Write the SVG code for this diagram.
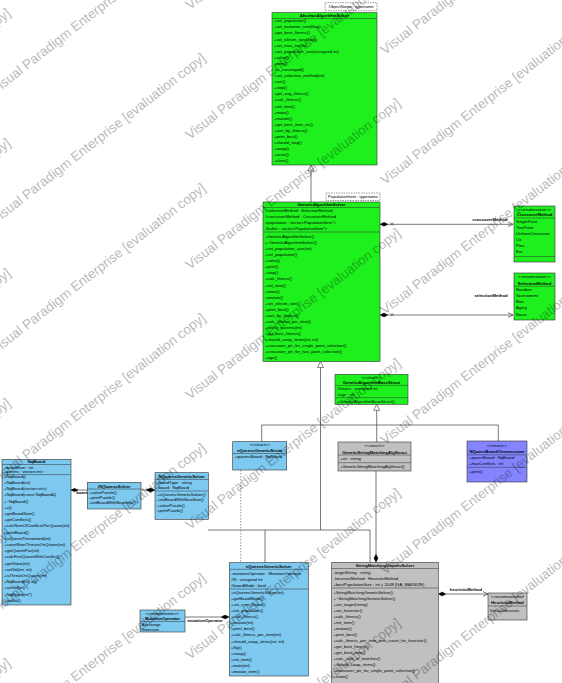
<svg xmlns="http://www.w3.org/2000/svg" width="562" height="683" viewBox="0 0 562 683">
<style>
.b{stroke:#333;stroke-width:0.6}
.gr{fill:#1ef01e}.bl{fill:#7ec9f0}.gy{fill:#c0c0c0}.pu{fill:#8484ff}
.sep{stroke:#333;stroke-width:0.5}
text{font-family:"Liberation Sans",Arial,sans-serif;font-size:4.2px;fill:#000}
.h{font-weight:bold;text-anchor:middle}
.i{font-style:italic}
.s{text-anchor:middle}
.tag{fill:#fff;stroke:#333;stroke-width:0.5;stroke-dasharray:1.5 1}
.c{stroke:#555;stroke-width:0.8;fill:none}
.d{stroke:#555;stroke-width:0.6;fill:none;stroke-dasharray:1.5 1.5}
.dia{fill:#000;stroke:#000;stroke-width:0.4}
.tri{fill:#fff;stroke:#555;stroke-width:0.7}
.lb{font-weight:bold;text-anchor:middle}
text.wm{font-size:13.5px;fill:#000;opacity:0.28}
</style>

<g id="connectors">
<line class="c" x1="311" y1="171" x2="311" y2="202"/>
<polygon class="tri" points="311,165 308,171 314,171"/>
<line class="c" x1="388" y1="224.3" x2="513" y2="224.3"/>
<path class="dia" d="M380,224.3 L384,222.3 L388,224.3 L384,226.3 Z"/>
<path class="c" d="M508,222 L513,224.3 L508,226.6"/>
<path class="c" stroke-width="0.5" d="M390.5,222.5 l3,3 M393.5,222.5 l-3,3"/>
<text class="lb" x="490" y="220.5">crossoverMethod</text>
<line class="c" x1="388" y1="315" x2="513" y2="315"/>
<path class="dia" d="M380,315 L384,313 L388,315 L384,317 Z"/>
<path class="c" d="M508,312.7 L513,315 L508,317.3"/>
<path class="c" stroke-width="0.5" d="M390.5,313.2 l3,3 M393.5,313.2 l-3,3"/>
<text class="lb" x="491" y="296.5">selectionMethod</text>
<polygon class="tri" points="320.5,361.5 317.5,367.5 323.5,367.5"/>
<line class="c" x1="320.5" y1="367.5" x2="320.5" y2="530"/>
<polyline class="c" points="208,530 370,530 370,562.3"/>
<line class="c" x1="265" y1="530" x2="265" y2="562.7"/>
<polygon class="tri" points="376.7,404.3 373.7,410.3 379.7,410.3"/>
<line class="c" x1="376.7" y1="410.3" x2="376.7" y2="442"/>
<polyline class="c" points="261.7,441.7 261.7,425 498.3,425 498.3,441"/>
<line class="c" x1="376" y1="471" x2="376" y2="554"/>
<path class="dia" d="M376,554 L378,558.2 L376,562.3 L374,558.2 Z"/>
<line class="d" x1="240.7" y1="470" x2="240.7" y2="562.7"/>
<line class="c" x1="446" y1="594" x2="488" y2="594"/>
<path class="dia" d="M438.3,594 L442.2,592 L446,594 L442.2,596 Z"/>
<path class="c" d="M483,591.7 L488,594 L483,596.3"/>
<text class="lb" x="466" y="591">heuristicMethod</text>
<line class="c" x1="185" y1="617" x2="221" y2="617"/>
<path class="dia" d="M221,617 L225,615 L229.3,617 L225,619 Z"/>
<text class="lb" x="205" y="621.5">mutationOperator</text>
<line class="c" x1="71" y1="490" x2="87.3" y2="490"/>
<path class="dia" d="M71,490 L74.5,488.3 L78,490 L74.5,491.7 Z"/>
<text class="lb" x="82" y="493.5">board</text>
<line class="c" x1="141" y1="490" x2="147" y2="490"/>
<path class="dia" d="M146,490 L150.5,488 L155,490 L150.5,492 Z"/>
</g>

<g id="AbstractAlgorithmSolver">
<rect class="b gr" x="272" y="12.7" width="105" height="152.3"/>
<text class="h i" x="324.5" y="17.2">AbstractAlgorithmSolver</text>
<line class="sep" x1="272" y1="18.5" x2="377" y2="18.5"/>
<text><tspan x="274" y="22.2">+init_population()</tspan><tspan x="274" dy="6.1">+set_mutation_rate(float)</tspan><tspan x="274" dy="6.1">+get_best_fitness()</tspan><tspan x="274" dy="6.1">+set_elitism_rate(float)</tspan><tspan x="274" dy="6.1">+set_max_iter(int)</tspan><tspan x="274" dy="6.1">+set_population_size(unsigned int)</tspan><tspan x="274" dy="6.1">+solve()</tspan><tspan x="274" dy="6.1">+print()</tspan><tspan x="274" dy="6.1">+is_converged()</tspan><tspan x="274" dy="6.1">+set_selection_method(int)</tspan><tspan x="274" dy="6.1">+run()</tspan><tspan x="274" dy="6.1">+step()</tspan><tspan x="274" dy="6.1">+get_avg_fitness()</tspan><tspan x="274" dy="6.1">+calc_fitness()</tspan><tspan x="274" dy="6.1">+init_item()</tspan><tspan x="274" dy="6.1">+mate()</tspan><tspan x="274" dy="6.1">+mutate()</tspan><tspan x="274" dy="6.1">+get_best_item_str()</tspan><tspan x="274" dy="6.1">+sort_by_fitness()</tspan><tspan x="274" dy="6.1">+print_best()</tspan><tspan x="274" dy="6.1">+should_stop()</tspan><tspan x="274" dy="6.1">+swap()</tspan><tspan x="274" dy="6.1">+reset()</tspan><tspan x="274" dy="6.1">+clear()</tspan></text>
<rect class="tag" x="325" y="2.7" width="52" height="8"/>
<text class="s" x="351" y="8.2">ObjectName : typename</text>
</g>

<g id="GeneticAlgorithmSolver">
<rect class="b gr" x="263" y="202" width="117" height="159.5"/>
<text class="h i" x="321.5" y="205.8">GeneticAlgorithmSolver</text>
<line class="sep" x1="263" y1="207.5" x2="380" y2="207.5"/>
<text><tspan x="265" y="212">#selectionMethod : SelectionMethod</tspan><tspan x="265" dy="6">#crossoverMethod : CrossoverMethod</tspan><tspan x="265" dy="6">#population : vector&lt;PopulationItem*&gt;</tspan><tspan x="265" dy="6">#buffer : vector&lt;PopulationItem*&gt;</tspan></text>
<line class="sep" x1="263" y1="232" x2="380" y2="232"/>
<text><tspan x="265" y="238.1">+GeneticAlgorithmSolver()</tspan><tspan x="265" dy="6.05">+~GeneticAlgorithmSolver()</tspan><tspan x="265" dy="6.05">+set_population_size(int)</tspan><tspan x="265" dy="6.05">+init_population()</tspan><tspan x="265" dy="6.05">+solve()</tspan><tspan x="265" dy="6.05">+print()</tspan><tspan x="265" dy="6.05">+step()</tspan><tspan x="265" dy="6.05">+calc_fitness()</tspan><tspan x="265" dy="6.05">+init_item()</tspan><tspan x="265" dy="6.05">+mate()</tspan><tspan x="265" dy="6.05">+mutate()</tspan><tspan x="265" dy="6.05">+set_elitism_rate()</tspan><tspan x="265" dy="6.05">+print_best()</tspan><tspan x="265" dy="6.05">+sort_by_fitness()</tspan><tspan x="265" dy="6.05">+calc_fitness_per_item()</tspan><tspan x="265" dy="6.05">+select_parents(int)</tspan><tspan x="265" dy="6.05">+get_best_fitness()</tspan><tspan x="265" dy="6.05">+should_swap_items(int, int)</tspan><tspan x="265" dy="6.05">+crossover_ptr_for_single_point_selection()</tspan><tspan x="265" dy="6.05">+crossover_ptr_for_two_point_selection()</tspan><tspan x="265" dy="6.05">+age()</tspan></text>
<rect class="tag" x="326" y="193" width="54" height="7.5"/>
<text class="s" x="353" y="198.3">PopulationItem : typename</text>
</g>

<g id="CrossoverMethod">
<rect class="b gr" x="514" y="206" width="41" height="56"/>
<text class="s" x="534.5" y="210.8">&lt;&lt;enumeration&gt;&gt;</text>
<text class="h" x="534.5" y="216.4">CrossoverMethod</text>
<line class="sep" x1="514" y1="218" x2="555" y2="218"/>
<text><tspan x="516" y="223.2">SinglePoint</tspan><tspan x="516" dy="6">TwoPoint</tspan><tspan x="516" dy="6">UniformCrossover</tspan><tspan x="516" dy="6">Ox</tspan><tspan x="516" dy="6">Pmx</tspan><tspan x="516" dy="6">Erx</tspan></text>
<line class="sep" x1="514" y1="256.5" x2="555" y2="256.5"/>
</g>

<g id="SelectionMethod">
<rect class="b gr" x="514" y="273" width="41" height="47"/>
<text class="s" x="534.5" y="278.2">&lt;&lt;enumeration&gt;&gt;</text>
<text class="h" x="534.5" y="284.7">SelectionMethod</text>
<line class="sep" x1="514" y1="286.3" x2="555" y2="286.3"/>
<text><tspan x="516" y="290.8">Random</tspan><tspan x="516" dy="6.2">Tournament</tspan><tspan x="516" dy="6.2">Rws</tspan><tspan x="516" dy="6.2">Aging</tspan><tspan x="516" dy="6.2">Naive</tspan></text>
</g>

<g id="GeneticAlgorithmBaseStruct">
<rect class="b gr" x="335" y="374.3" width="73" height="30"/>
<text class="s" x="371.5" y="379.1">&lt;&lt;struct&gt;&gt;</text>
<text class="h" x="371.5" y="383.8">GeneticAlgorithmBaseStruct</text>
<line class="sep" x1="335" y1="385.4" x2="408" y2="385.4"/>
<text><tspan x="337" y="390.1">#fitness : unsigned int</tspan><tspan x="337" dy="5.7">#age : int</tspan></text>
<line class="sep" x1="335" y1="397.7" x2="408" y2="397.7"/>
<text x="337" y="402.7">+GeneticAlgorithmBaseStruct()</text>
</g>

<g id="NQueensGeneticStruct">
<rect class="b bl" x="232.7" y="441.7" width="54" height="28.3"/>
<text class="s" x="259.7" y="446.4">&lt;&lt;struct&gt;&gt;</text>
<text class="h" x="259.7" y="452.1">nQueensGeneticStruct</text>
<line class="sep" x1="232.7" y1="453.5" x2="286.7" y2="453.5"/>
<text x="234.5" y="458.1">+queensBoard : NqBoard</text>
</g>

<g id="GeneticStringMatchingAlgStruct">
<rect class="b gy" x="338" y="442" width="73" height="29"/>
<text class="s" x="374.5" y="447.4">&lt;&lt;struct&gt;&gt;</text>
<text class="h" x="374.5" y="453.7">GeneticStringMatchingAlgStruct</text>
<line class="sep" x1="338" y1="455" x2="411" y2="455"/>
<text x="340" y="460.1">+str : string</text>
<line class="sep" x1="338" y1="462.7" x2="411" y2="462.7"/>
<text x="340" y="468.1">+GeneticStringMatchingAlgStruct()</text>
</g>

<g id="NQueenBoardChromosome">
<rect class="b pu" x="467" y="441" width="60" height="41"/>
<text class="s" x="497" y="446.7">&lt;&lt;struct&gt;&gt;</text>
<text class="h" x="497" y="453.1">NQueenBoardChromosome</text>
<line class="sep" x1="467" y1="454.8" x2="527" y2="454.8"/>
<text><tspan x="469" y="458.7">+queenBoard : NqBoard</tspan><tspan x="469" dy="6">+maxConflicts : int</tspan></text>
<line class="sep" x1="467" y1="467.3" x2="527" y2="467.3"/>
<text x="469" y="473.1">+print()</text>
</g>

<g id="NqBoard">
<rect class="b bl" x="2" y="459.3" width="69" height="145.7"/>
<text class="h" x="36.5" y="463.1">NqBoard</text>
<line class="sep" x1="2" y1="464.5" x2="71" y2="464.5"/>
<text><tspan x="4" y="468.5">+boardSize : int</tspan><tspan x="4" dy="4.6">-queens : vector&lt;int&gt;</tspan></text>
<line class="sep" x1="2" y1="474.6" x2="71" y2="474.6"/>
<text><tspan x="4" y="477.8">+NqBoard()</tspan><tspan x="4" dy="6.2">+NqBoard(int)</tspan><tspan x="4" dy="6.2">+NqBoard(vector&lt;int&gt;)</tspan><tspan x="4" dy="6.2">+NqBoard(const NqBoard&amp;)</tspan><tspan x="4" dy="6.2">+~NqBoard()</tspan><tspan x="4" dy="6.2">+=()</tspan><tspan x="4" dy="6.2">+getBoardSize()</tspan><tspan x="4" dy="6.2">+getConflicts()</tspan><tspan x="4" dy="6.2">+calcNumOfConflictsPerQueen(int)</tspan><tspan x="4" dy="6.2">+printBoard()</tspan><tspan x="4" dy="6.2">+isQueenThreatened(int)</tspan><tspan x="4" dy="6.2">+countNumThreatsOnQueen(int)</tspan><tspan x="4" dy="6.2">+getQueenPos(int)</tspan><tspan x="4" dy="6.2">+calcFirstQueenWithConflict()</tspan><tspan x="4" dy="6.2">+getValue(int)</tspan><tspan x="4" dy="6.2">+setVal(int, int)</tspan><tspan x="4" dy="6.2">+isThreatOnQueen(int)</tspan><tspan x="4" dy="6.2">+NqBoard(int, int)</tspan><tspan x="4" dy="6.2">+setVal(int)</tspan><tspan x="4" dy="6.2">+NqBoard(int*)</tspan><tspan x="4" dy="6.2">+setVal()</tspan></text>
</g>

<g id="INQueensSolver">
<rect class="b bl" x="87.3" y="482.3" width="53.7" height="26.7"/>
<text class="h i" x="114.2" y="487.6">INQueensSolver</text>
<line class="sep" x1="87.3" y1="489" x2="141" y2="489"/>
<text><tspan x="89" y="493.6">+solvePuzzle()</tspan><tspan x="89" dy="5">+printPuzzle()</tspan><tspan x="89" dy="5">+initBoardWithNewSize()</tspan></text>
</g>

<g id="NQueensGeneticSolver">
<rect class="b bl" x="155" y="472.7" width="53.3" height="46.6"/>
<text class="h" x="181.7" y="477.7">NQueensGeneticSolver</text>
<line class="sep" x1="155" y1="479.4" x2="208.3" y2="479.4"/>
<text><tspan x="157" y="483.9">-boardType : string</tspan><tspan x="157" dy="4.7">-board : NqBoard</tspan></text>
<line class="sep" x1="155" y1="491" x2="208.3" y2="491"/>
<text><tspan x="157" y="496.3">+nQueensGeneticSolver()</tspan><tspan x="157" dy="5.1">+initBoardWithNewSize()</tspan><tspan x="157" dy="5.1">+solvePuzzle()</tspan><tspan x="157" dy="5.1">+printPuzzle()</tspan></text>
</g>

<g id="nQueensGeneticSolver">
<rect class="b bl" x="229.3" y="562.7" width="79" height="113.3"/>
<text class="h" x="268.8" y="567.8">nQueensGeneticSolver</text>
<line class="sep" x1="229.3" y1="569.3" x2="308.3" y2="569.3"/>
<text><tspan x="231" y="574.6">-mutationOperator : MutationOperator</tspan><tspan x="231" dy="6.2">#N : unsigned int</tspan><tspan x="231" dy="6.2">#boardMode : bool</tspan></text>
<line class="sep" x1="229.3" y1="589" x2="308.3" y2="589"/>
<text><tspan x="231" y="593.7">+nQueensGeneticSolver(int)</tspan><tspan x="231" dy="6.1">+getBoardMode()</tspan><tspan x="231" dy="6.1">+set_num_board()</tspan><tspan x="231" dy="6.1">+init_population()</tspan><tspan x="231" dy="6.1">+calc_fitness()</tspan><tspan x="231" dy="6.1">+mutate(int)</tspan><tspan x="231" dy="6.1">+print_best()</tspan><tspan x="231" dy="6.1">+calc_fitness_per_item(int)</tspan><tspan x="231" dy="6.1">+should_swap_items(int, int)</tspan><tspan x="231" dy="6.1">+flip()</tspan><tspan x="231" dy="6.1">+swap()</tspan><tspan x="231" dy="6.1">+init_item()</tspan><tspan x="231" dy="6.1">+mate(int)</tspan><tspan x="231" dy="6.1">+mutate_item()</tspan></text>
</g>

<g id="MutationOperator">
<rect class="b bl" x="140" y="610" width="45" height="22"/>
<text class="s" x="162.5" y="614.5">&lt;&lt;enumeration&gt;&gt;</text>
<text class="h" x="162.5" y="620">MutationOperator</text>
<line class="sep" x1="140" y1="621.5" x2="185" y2="621.5"/>
<text><tspan x="142" y="625.8">Exchange</tspan><tspan x="142" dy="5">Inversion</tspan></text>
</g>

<g id="StringMatchingGeneticSolver">
<rect class="b gy" x="331.7" y="562.3" width="106.6" height="130"/>
<text class="h" x="385" y="567.4">StringMatchingGeneticSolver</text>
<line class="sep" x1="331.7" y1="568.5" x2="438.3" y2="568.5"/>
<text><tspan x="333.5" y="574.1">-targetString : string</tspan><tspan x="333.5" dy="5.7">-heuristicMethod : HeuristicMethod</tspan><tspan x="333.5" dy="5.7">+bestPopulationSize : int = 2048 [GA_MAXSIZE]</tspan></text>
<line class="sep" x1="331.7" y1="588" x2="438.3" y2="588"/>
<text><tspan x="333.5" y="594.1">+StringMatchingGeneticSolver()</tspan><tspan x="333.5" dy="6">+~StringMatchingGeneticSolver()</tspan><tspan x="333.5" dy="6">+set_target(string)</tspan><tspan x="333.5" dy="6">+set_heuristic()</tspan><tspan x="333.5" dy="6">+calc_fitness()</tspan><tspan x="333.5" dy="6">+init_item()</tspan><tspan x="333.5" dy="6">+mutate()</tspan><tspan x="333.5" dy="6">+print_best()</tspan><tspan x="333.5" dy="6">+calc_fitness_per_item_with_count_for_heuristic()</tspan><tspan x="333.5" dy="6">+get_best_fitness()</tspan><tspan x="333.5" dy="6">+get_best_item()</tspan><tspan x="333.5" dy="6">+calc_sum_of_matches()</tspan><tspan x="333.5" dy="6">+should_swap_items()</tspan><tspan x="333.5" dy="6">+crossover_ptr_for_single_point_selection()</tspan><tspan x="333.5" dy="6">+mate()</tspan></text>
</g>

<g id="HeuristicMethod">
<rect class="b gy" x="488" y="593" width="39" height="27"/>
<text class="s" x="507.5" y="597.8">&lt;&lt;enumeration&gt;&gt;</text>
<text class="h" x="507.5" y="604">HeuristicMethod</text>
<line class="sep" x1="488" y1="606" x2="527" y2="606"/>
<text x="490" y="611.5">DefaultHeuristic</text>
</g>

<g id="watermark">
<text class="wm" transform="translate(-200,50) rotate(-38)">Visual Paradigm Enterprise [evaluation copy]</text>
<text class="wm" transform="translate(-200,180) rotate(-38)">Visual Paradigm Enterprise [evaluation copy]</text>
<text class="wm" transform="translate(-200,310) rotate(-38)">Visual Paradigm Enterprise [evaluation copy]</text>
<text class="wm" transform="translate(-200,440) rotate(-38)">Visual Paradigm Enterprise [evaluation copy]</text>
<text class="wm" transform="translate(-200,570) rotate(-38)">Visual Paradigm Enterprise [evaluation copy]</text>
<text class="wm" transform="translate(-200,700) rotate(-38)">Visual Paradigm Enterprise [evaluation copy]</text>
<text class="wm" transform="translate(-200,830) rotate(-38)">Visual Paradigm Enterprise [evaluation copy]</text>
<text class="wm" transform="translate(-5,95) rotate(-38)">Visual Paradigm Enterprise [evaluation copy]</text>
<text class="wm" transform="translate(-5,225) rotate(-38)">Visual Paradigm Enterprise [evaluation copy]</text>
<text class="wm" transform="translate(-5,355) rotate(-38)">Visual Paradigm Enterprise [evaluation copy]</text>
<text class="wm" transform="translate(-5,485) rotate(-38)">Visual Paradigm Enterprise [evaluation copy]</text>
<text class="wm" transform="translate(-5,615) rotate(-38)">Visual Paradigm Enterprise [evaluation copy]</text>
<text class="wm" transform="translate(-5,745) rotate(-38)">Visual Paradigm Enterprise [evaluation copy]</text>
<text class="wm" transform="translate(190,10) rotate(-38)">Visual Paradigm Enterprise [evaluation copy]</text>
<text class="wm" transform="translate(190,140) rotate(-38)">Visual Paradigm Enterprise [evaluation copy]</text>
<text class="wm" transform="translate(190,270) rotate(-38)">Visual Paradigm Enterprise [evaluation copy]</text>
<text class="wm" transform="translate(190,400) rotate(-38)">Visual Paradigm Enterprise [evaluation copy]</text>
<text class="wm" transform="translate(190,530) rotate(-38)">Visual Paradigm Enterprise [evaluation copy]</text>
<text class="wm" transform="translate(190,660) rotate(-38)">Visual Paradigm Enterprise [evaluation copy]</text>
<text class="wm" transform="translate(190,790) rotate(-38)">Visual Paradigm Enterprise [evaluation copy]</text>
<text class="wm" transform="translate(385,55) rotate(-38)">Visual Paradigm Enterprise [evaluation copy]</text>
<text class="wm" transform="translate(385,185) rotate(-38)">Visual Paradigm Enterprise [evaluation copy]</text>
<text class="wm" transform="translate(385,315) rotate(-38)">Visual Paradigm Enterprise [evaluation copy]</text>
<text class="wm" transform="translate(385,445) rotate(-38)">Visual Paradigm Enterprise [evaluation copy]</text>
<text class="wm" transform="translate(385,575) rotate(-38)">Visual Paradigm Enterprise [evaluation copy]</text>
<text class="wm" transform="translate(385,705) rotate(-38)">Visual Paradigm Enterprise [evaluation copy]</text>
<text class="wm" transform="translate(385,835) rotate(-38)">Visual Paradigm Enterprise [evaluation copy]</text>
</g>
</svg>
